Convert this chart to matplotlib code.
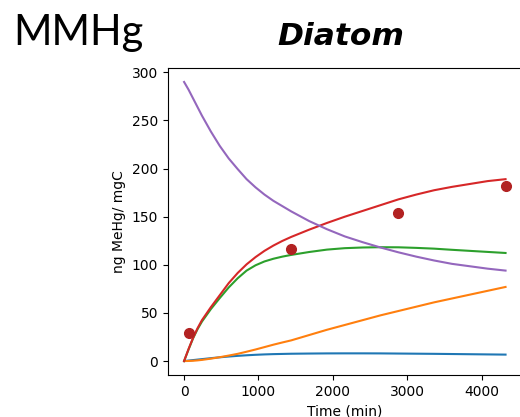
import matplotlib
matplotlib.use("Agg")
import matplotlib.pyplot as plt

# model time grid (min)
time = [0, 60, 120, 180, 240, 360, 480, 600, 720, 840, 960, 1080, 1200, 1320, 1440,
        1680, 1920, 2160, 2400, 2640, 2880, 3120, 3360, 3600, 3840, 4080, 4320]

blue = [0, 0.5, 1, 1.5, 2, 3, 3.9, 4.7, 5.4, 6, 6.5, 6.9, 7.2, 7.4, 7.6,
        7.8, 7.95, 8, 8, 7.95, 7.8, 7.65, 7.5, 7.3, 7.1, 6.9, 6.7]
orange = [0, 0.1, 0.3, 0.7, 1.2, 2.5, 4, 5.7, 7.5, 9.7, 12, 14.5, 17, 19.3, 21.5,
          27, 32.5, 37.5, 42.5, 47.5, 52, 56.5, 61, 65, 69, 73, 77]
green = [0, 12, 23.5, 33, 41, 54, 65.5, 76.5, 86, 94, 99.5, 103.5, 106.3, 108.5, 110.3,
         113.3, 115.8, 117.3, 118, 118.3, 118.2, 117.6, 116.8, 115.6, 114.5, 113.4, 112.3]
red = [0, 12.5, 24, 34, 42.5, 56, 68.5, 81, 91.5, 100.5, 108, 114.5, 120, 124.8, 129,
       136.5, 143.5, 150, 156, 162, 168, 173, 177.5, 181, 184, 187, 189]
purple = [290, 282, 273, 264, 255, 238.5, 223.5, 210.5, 199.5, 189, 180.5, 173, 166.5, 161, 155.5,
          145.5, 137, 129.5, 123.5, 118, 113, 108.5, 104.5, 101, 98.5, 96, 94]

# observations
obs_time = [60, 1440, 2880, 4320]
obs_val = [29, 116, 154, 182]

fig = plt.figure(figsize=(5.2, 4.17), dpi=100)
ax = fig.add_axes([0.3231, 0.1007, 0.680, 0.7362])

ax.plot(time, blue, color="tab:blue", lw=1.5)
ax.plot(time, orange, color="tab:orange", lw=1.5)
ax.plot(time, green, color="tab:green", lw=1.5)
ax.plot(time, red, color="tab:red", lw=1.5)
ax.plot(time, purple, color="tab:purple", lw=1.5)
ax.plot(obs_time, obs_val, "o", color="#b22222", ms=7)

ax.set_xticks([0, 1000, 2000, 3000, 4000])
ax.set_yticks([0, 50, 100, 150, 200, 250, 300])
ax.set_xlabel("Time (min)")
ax.set_ylabel("ng MeHg/ mgC")

fig.text(0.025, 0.892, "MMHg", fontsize=30, family="Lato", va="baseline")
fig.text(0.533, 0.892, "Diatom", fontsize=22.5, family="DejaVu Sans", weight="bold",
         style="italic", va="baseline")

fig.savefig("out.png", dpi=100)
